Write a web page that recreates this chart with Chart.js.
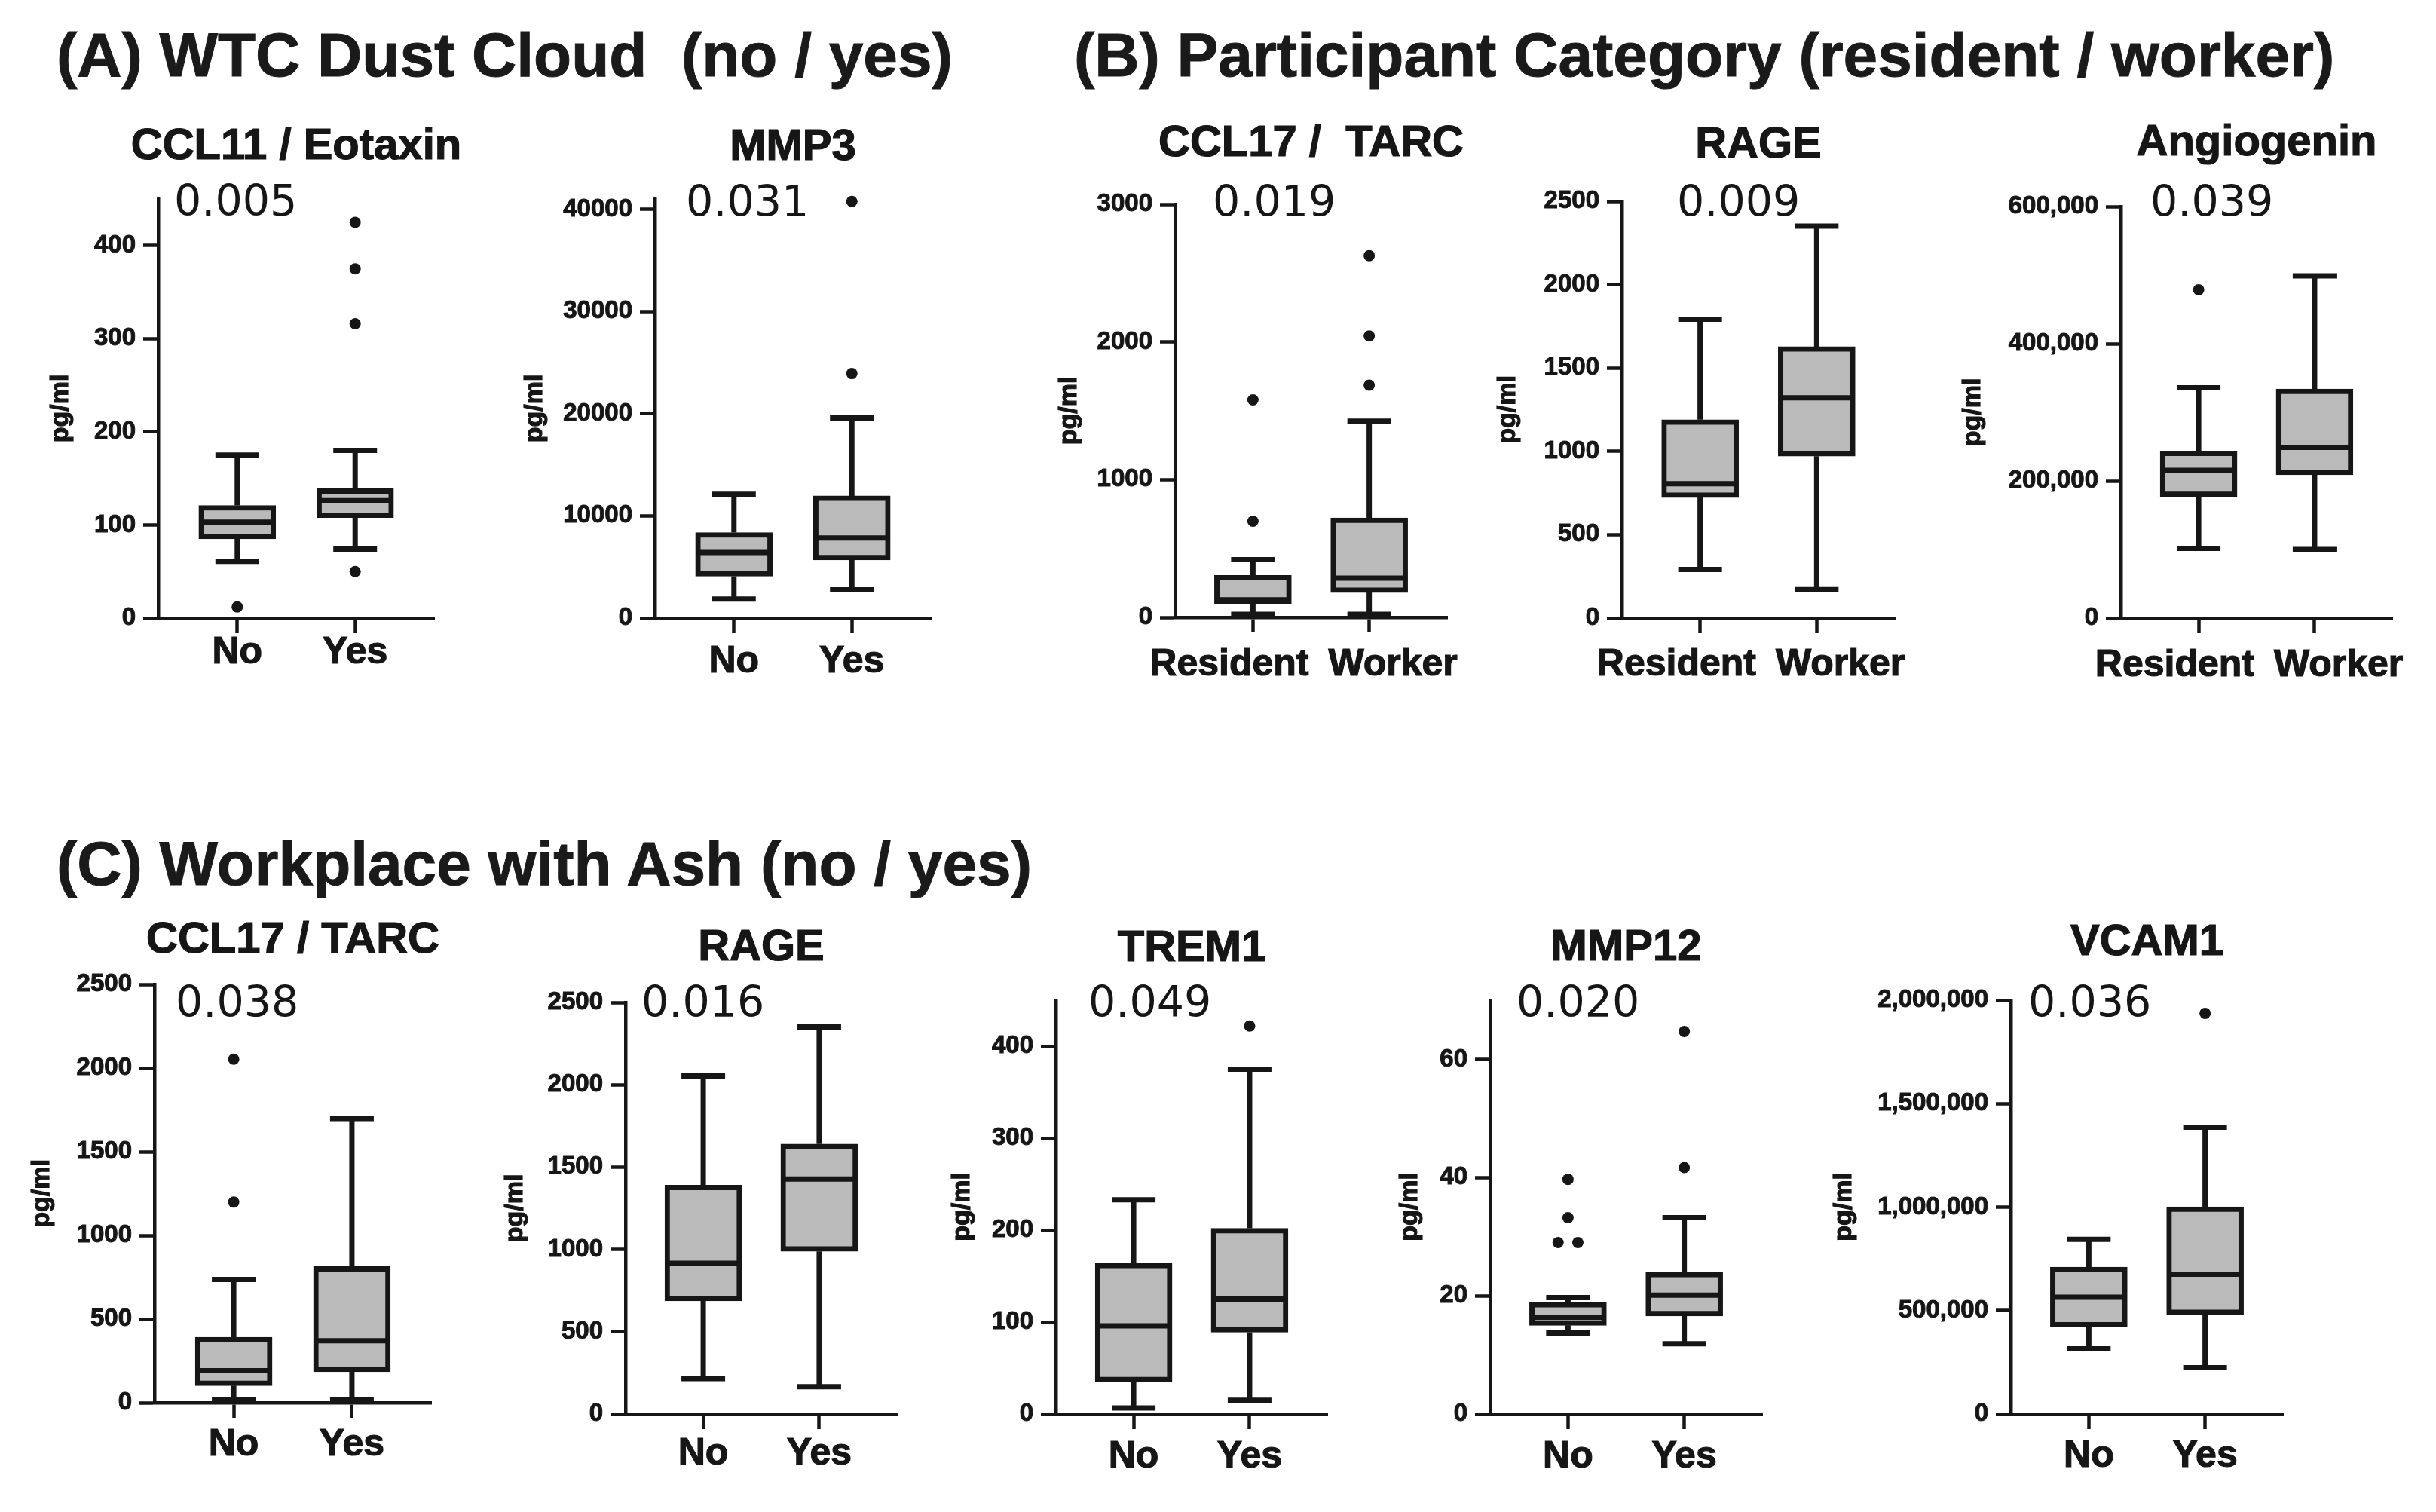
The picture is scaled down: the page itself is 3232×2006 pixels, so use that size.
<!DOCTYPE html>
<html>
<head>
<meta charset="utf-8">
<script src="https://cdn.jsdelivr.net/npm/chart.js@4.4.0/dist/chart.umd.min.js"></script>
<style>
  html, body { margin: 0; padding: 0; background: #fff; }
  body { width: 3232px; height: 2006px; position: relative; overflow: hidden; }
  .hdr { position: absolute; font: bold 82px 'Liberation Sans', Arial, sans-serif; line-height: 82px; white-space: pre; color: #1a1a1a; -webkit-text-stroke: 1px #1a1a1a; }
  canvas { position: absolute; }
</style>
</head>
<body>
<div class="hdr" style="left:75px; top:32px">(A) WTC Dust Cloud  (no / yes)</div>
<div class="hdr" style="left:1425px; top:32px">(B) Participant Category (resident / worker)</div>
<div class="hdr" style="left:75px; top:1105px">(C) Workplace with Ash (no / yes)</div>
<script>
// groups on the x axis
const dustCats = ['No', 'Yes'];
const workerCats = ['Resident', 'Worker'];
const ashCats = ['No', 'Yes'];

// box stats per group: [min, q1, median, q3, max]; outliers listed per group
const ccl11Box = [[61, 85, 103, 121, 175], [74, 108, 126, 139, 180]];
const ccl11Out = [[12], [425, 375, 316, 50]];
const ccl11Ticks = ['0', '100', '200', '300', '400'];

const mmp3Box = [[1870, 4090, 6410, 8370, 12120], [2760, 5690, 7840, 11950, 19570]];
const mmp3Out = [[], [40760, 23920]];
const mmp3Ticks = ['0', '10000', '20000', '30000', '40000'];

const tarcBBox = [[22, 98, 127, 305, 419], [22, 180, 285, 722, 1425]];
const tarcBOut = [[1579, 698], [2627, 2043, 1686]];
const tarcBTicks = ['0', '1000', '2000', '3000'];

const rageBBox = [[292, 723, 806, 1190, 1792], [171, 971, 1321, 1628, 2351]];
const rageBOut = [[], []];
const rageBTicks = ['0', '500', '1000', '1500', '2000', '2500'];

const angioBox = [[101600, 177100, 215500, 243500, 335600], [100000, 209000, 249000, 334000, 498900]];
const angioOut = [[478700], []];
const angioTicks = ['0', '200,000', '400,000', '600,000'];

const tarcCBox = [[19, 102, 192, 392, 736], [19, 185, 370, 814, 1698]];
const tarcCOut = [[2053, 1199], []];
const tarcCTicks = ['0', '500', '1000', '1500', '2000', '2500'];

const rageCBox = [[215, 687, 916, 1391, 2054], [166, 988, 1427, 1640, 2351]];
const rageCOut = [[], []];
const rageCTicks = ['0', '500', '1000', '1500', '2000', '2500'];

const trem1Box = [[6.5, 35, 96, 164, 233], [15, 89, 125, 202, 375]];
const trem1Out = [[], [422]];
const trem1Ticks = ['0', '100', '200', '300', '400'];

const mmp12Box = [[13.7, 15.0, 16.4, 18.9, 19.7], [11.9, 16.6, 20.1, 24.0, 33.2]];
const mmp12Out = [[39.7, 33.2, 29, 29], [64.7, 41.7]];
const mmp12Ticks = ['0', '20', '40', '60'];

const vcamBox = [[314700, 420400, 564300, 710000, 844500], [224400, 479800, 675800, 1001800, 1385800]];
const vcamOut = [[], [1936600]];
const vcamTicks = ['0', '500,000', '1,000,000', '1,500,000', '2,000,000'];

// layout of each panel on the page (axis corners in page px)
const panels = [
  { title: 'CCL11 / Eotaxin', p: '0.005', cats: dustCats, box: ccl11Box, out: ccl11Out, ticks: ccl11Ticks, max: 450,
    ax: 210, ar: 576, at: 264, az: 820, titleY: 211, pDx: 21, pY: 286, pgDx: -129, labGap: 60 },
  { title: 'MMP3', p: '0.031', cats: dustCats, box: mmp3Box, out: mmp3Out, ticks: mmp3Ticks, max: 41000,
    ax: 869, ar: 1235, at: 264, az: 820, titleY: 212, pDx: 41, pY: 287, pgDx: -159, labGap: 72 },
  { title: 'CCL17 /  TARC', p: '0.019', cats: workerCats, box: tarcBBox, out: tarcBOut, ticks: tarcBTicks, max: 3000,
    ax: 1559, ar: 1920, at: 271, az: 819, titleY: 207, pDx: 50, pY: 287, pgDx: -140, labGap: 77 },
  { title: 'RAGE', p: '0.009', cats: workerCats, box: rageBBox, out: rageBOut, ticks: rageBTicks, max: 2500,
    ax: 2152, ar: 2514, at: 267, az: 820, titleY: 209, pDx: 73, pY: 287, pgDx: -151, labGap: 76 },
  { title: 'Angiogenin', p: '0.039', cats: workerCats, box: angioBox, out: angioOut, ticks: angioTicks, max: 600000,
    ax: 2814, ar: 3174, at: 274, az: 820, titleY: 206, pDx: 39, pY: 287, pgDx: -196, labGap: 77 },
  { title: 'CCL17 / TARC', p: '0.038', cats: ashCats, box: tarcCBox, out: tarcCOut, ticks: tarcCTicks, max: 2500,
    ax: 205, ar: 572, at: 1306, az: 1861, titleY: 1264, pDx: 28, pY: 1349, pgDx: -149, labGap: 70 },
  { title: 'RAGE', p: '0.016', cats: ashCats, box: rageCBox, out: rageCOut, ticks: rageCTicks, max: 2500,
    ax: 830, ar: 1190, at: 1330, az: 1876, titleY: 1274, pDx: 21, pY: 1349, pgDx: -146, labGap: 67 },
  { title: 'TREM1', p: '0.049', cats: ashCats, box: trem1Box, out: trem1Out, ticks: trem1Ticks, max: 450,
    ax: 1401, ar: 1761, at: 1327, az: 1876, titleY: 1275, pDx: 43, pY: 1349, pgDx: -124, labGap: 71 },
  { title: 'MMP12', p: '0.020', cats: ashCats, box: mmp12Box, out: mmp12Out, ticks: mmp12Ticks, max: 70,
    ax: 1977, ar: 2338, at: 1327, az: 1876, titleY: 1274, pDx: 35, pY: 1349, pgDx: -106, labGap: 71 },
  { title: 'VCAM1', p: '0.036', cats: ashCats, box: vcamBox, out: vcamOut, ticks: vcamTicks, max: 2000000,
    ax: 2668, ar: 3029, at: 1327, az: 1876, titleY: 1267, pDx: 23, pY: 1349, pgDx: -221, labGap: 70 }
];

const INK = '#161616';
const FILL = '#bababa';
const SANS = "'Liberation Sans', Arial, sans-serif";
const BOX_W = 102, CAP_W = 58, LINE_W = 7;
const L = 250, T = 160, R = 60, B = 130;

Chart.defaults.font.family = SANS;
Chart.defaults.color = INK;

function toNum(s) { return parseFloat(s.replace(/,/g, '')); }

// outliers as points; equal values inside a group are set side by side
function outlierPoints(out) {
  const pts = [];
  out.forEach((vals, g) => {
    vals.forEach((v, k) => {
      const same = vals.filter(w => w === v);
      const idx = vals.slice(0, k).filter(w => w === v).length;
      const dx = same.length > 1 ? (idx - (same.length - 1) / 2) * 0.17 : 0;
      pts.push({ x: g + 1 + dx, y: v });
    });
  });
  return pts;
}

// bold text with a thin outline so it reads as heavy as the original
function heavyText(ctx, txt, x, y) {
  ctx.fillText(txt, x, y);
  ctx.strokeText(txt, x, y);
}

function panelPlugin(p) {
  return {
    id: 'panelParts',
    afterDatasetsDraw(chart) {
      const ctx = chart.ctx, x = chart.scales.x, y = chart.scales.y;
      ctx.save();
      ctx.strokeStyle = INK;
      ctx.lineWidth = LINE_W;
      p.box.forEach((s, i) => {
        const cx = x.getPixelForValue(i + 1);
        const [mn, q1, md, q3, mx] = s.map(v => y.getPixelForValue(v));
        ctx.beginPath();
        ctx.moveTo(cx, q3); ctx.lineTo(cx, mx);
        ctx.moveTo(cx, q1); ctx.lineTo(cx, mn);
        ctx.moveTo(cx - CAP_W / 2, mx); ctx.lineTo(cx + CAP_W / 2, mx);
        ctx.moveTo(cx - CAP_W / 2, mn); ctx.lineTo(cx + CAP_W / 2, mn);
        ctx.moveTo(cx - BOX_W / 2 + 3, md); ctx.lineTo(cx + BOX_W / 2 - 3, md);
        ctx.stroke();
      });
      ctx.restore();
    },
    afterDraw(chart) {
      const ctx = chart.ctx, a = chart.chartArea, x = chart.scales.x;
      const offY = p.at - T;
      ctx.save();
      ctx.fillStyle = INK;
      ctx.strokeStyle = INK;
      ctx.lineWidth = 1.2;
      ctx.textBaseline = 'alphabetic';

      // panel title
      ctx.font = 'bold 58px ' + SANS;
      ctx.textAlign = 'center';
      heavyText(ctx, p.title, (a.left + a.right) / 2, p.titleY - offY);

      // p value
      ctx.font = "57px 'DejaVu Sans', sans-serif";
      ctx.textAlign = 'left';
      ctx.fillText(p.p, a.left + p.pDx, p.pY - offY);

      // group labels, pushed apart when they would touch
      ctx.font = 'bold 50px ' + SANS;
      ctx.textAlign = 'center';
      const ws = p.cats.map(c => ctx.measureText(c).width);
      const xs = p.cats.map((c, i) => x.getPixelForValue(i + 1));
      const over = (xs[0] + ws[0] / 2 + 26) - (xs[1] - ws[1] / 2);
      if (over > 0) { xs[0] -= over / 2; xs[1] += over / 2; }
      p.cats.forEach((c, i) => heavyText(ctx, c, xs[i], a.bottom + p.labGap));

      // axis unit
      ctx.font = 'bold 34px ' + SANS;
      ctx.textBaseline = 'middle';
      ctx.translate(a.left + p.pgDx, (a.top + a.bottom) / 2);
      ctx.rotate(-Math.PI / 2);
      heavyText(ctx, 'pg/ml', 0, 0);
      ctx.restore();
    }
  };
}

panels.forEach(p => {
  const cv = document.createElement('canvas');
  cv.width = (p.ar - p.ax) + L + R;
  cv.height = (p.az - p.at) + T + B;
  cv.style.left = (p.ax - L) + 'px';
  cv.style.top = (p.at - T) + 'px';
  document.body.appendChild(cv);

  new Chart(cv, {
    type: 'bar',
    data: {
      datasets: [
        {
          type: 'bar',
          data: p.box.map((s, i) => ({ x: i + 1, y: [s[1], s[3]] })),
          backgroundColor: FILL,
          borderColor: INK,
          borderWidth: LINE_W,
          borderSkipped: false,
          barThickness: BOX_W,
          order: 2
        },
        {
          type: 'scatter',
          data: outlierPoints(p.out),
          pointRadius: 7.5,
          pointBackgroundColor: INK,
          pointBorderWidth: 0,
          clip: false,
          order: 1
        }
      ]
    },
    options: {
      responsive: false,
      animation: false,
      devicePixelRatio: 1,
      layout: { padding: { left: 0, top: T, right: R, bottom: 0 } },
      plugins: { legend: { display: false }, tooltip: { enabled: false } },
      scales: {
        x: {
          type: 'linear',
          min: 0.33,
          max: 2.67,
          offset: false,
          afterBuildTicks: s => { s.ticks = p.cats.map((c, i) => ({ value: i + 1 })); },
          afterFit: s => { s.height = B; },
          ticks: { callback: () => '', font: { size: 10 } },
          grid: { offset: false, drawOnChartArea: false, drawTicks: true, tickLength: 20, tickWidth: 4.5, tickColor: INK },
          border: { display: true, width: 4.5, color: INK }
        },
        y: {
          type: 'linear',
          min: 0,
          max: p.max,
          afterBuildTicks: s => { s.ticks = p.ticks.map(t => ({ value: toNum(t) })); },
          afterFit: s => { s.width = L; },
          ticks: {
            callback: (v, i) => p.ticks[i],
            font: { size: 33, weight: 'bold' },
            color: INK,
            textStrokeColor: INK,
            textStrokeWidth: 1,
            padding: 10
          },
          grid: { drawOnChartArea: false, drawTicks: true, tickLength: 20, tickWidth: 4.5, tickColor: INK },
          border: { display: true, width: 4.5, color: INK }
        }
      }
    },
    plugins: [panelPlugin(p)]
  });
});
</script>
</body>
</html>
